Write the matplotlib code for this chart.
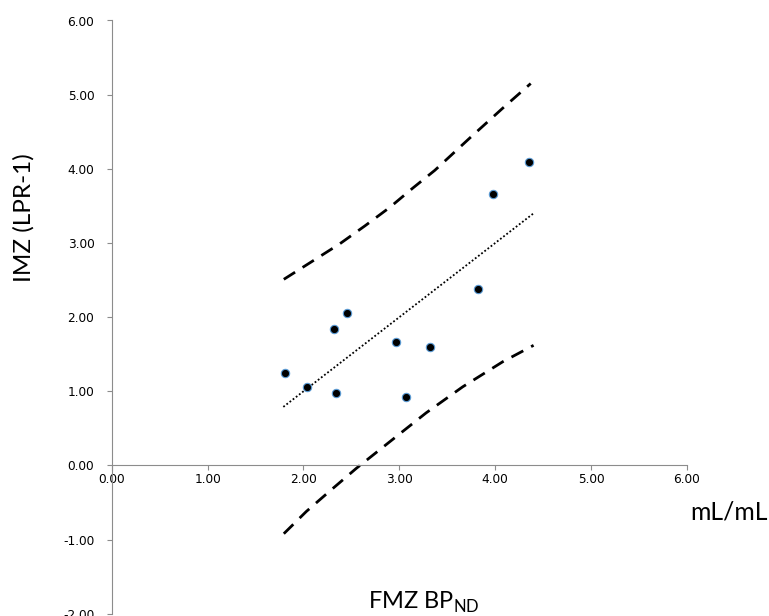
import matplotlib.pyplot as plt

# scatter values (FMZ BPnd vs IMZ)
fmz = [1.81, 2.04, 2.32, 2.34, 2.45, 2.96, 3.07, 3.32, 3.82, 3.98, 4.35]
imz = [1.25, 1.06, 1.84, 0.98, 2.05, 1.66, 0.93, 1.60, 2.38, 3.66, 4.09]

# regression line end points
fit_x = [1.79, 4.40]
fit_y = [0.79, 3.40]

# prediction band
up_x = [1.795, 2.10, 2.38, 2.64, 2.90, 3.14, 3.37, 3.73, 4.08, 4.37]
up_y = [2.51, 2.76, 2.99, 3.23, 3.48, 3.74, 3.98, 4.41, 4.82, 5.15]
lo_x = [1.795, 2.03, 2.27, 2.55, 2.90, 3.28, 3.66, 4.08, 4.40]
lo_y = [-0.92, -0.62, -0.35, -0.04, 0.32, 0.71, 1.06, 1.40, 1.62]

xticks = [0, 1, 2, 3, 4, 5, 6]
yticks = [-2, -1, 0, 1, 2, 3, 4, 5, 6]

W, H = 769, 616
fig = plt.figure(figsize=(W / 100, H / 100), dpi=100)
ax = fig.add_axes([111.7 / W, 1 - 613.8 / H, (687 - 111.7) / W, (613.8 - 20.5) / H])

grey = '#8c8c8c'

# bands and fit
ax.plot(up_x, up_y, color='black', lw=2.0, ls=(0, (4.8, 3.2)))
ax.plot(lo_x, lo_y, color='black', lw=2.0, ls=(0, (4.8, 3.2)))
ax.plot(fit_x, fit_y, color='black', lw=1.3, ls=(0, (1, 1.2)))

# data points
ax.plot(fmz, imz, 'o', color='black', markersize=6, markeredgecolor='#5b9bd5',
        markeredgewidth=0.8)

ax.set_xlim(0, 6)
ax.set_ylim(-2, 6)
ax.set_xticks(xticks)
ax.set_yticks(yticks)
ax.set_xticklabels(['%.2f' % v for v in xticks])
ax.set_yticklabels(['%.2f' % v for v in yticks])

ax.spines['top'].set_visible(False)
ax.spines['right'].set_visible(False)
ax.spines['bottom'].set_position(('data', 0))
ax.spines['bottom'].set_color(grey)
ax.spines['left'].set_color(grey)
ax.tick_params(axis='x', direction='out', length=3.5, width=0.8, color=grey,
               labelsize=8.7, pad=2)
ax.tick_params(axis='y', direction='out', length=3.5, width=0.8, color=grey,
               labelsize=8.7, pad=9)
ax.patch.set_alpha(0)

# axis titles
fig.text(24 / W, 1 - 217.5 / H, 'IMZ (LPR-1)', rotation=90, ha='center', va='center',
         fontsize=17.5, family='Lato')
fig.text(728.7 / W, 1 - 512 / H, 'mL/mL', ha='center', va='center',
         fontsize=17.8, family='Lato')
fig.text(368 / W, 1 - 609 / H, r'FMZ BP$_{\mathregular{ND}}$', ha='left', va='baseline',
         fontsize=17, family='Lato')

fig.savefig('out.png', dpi=100)
